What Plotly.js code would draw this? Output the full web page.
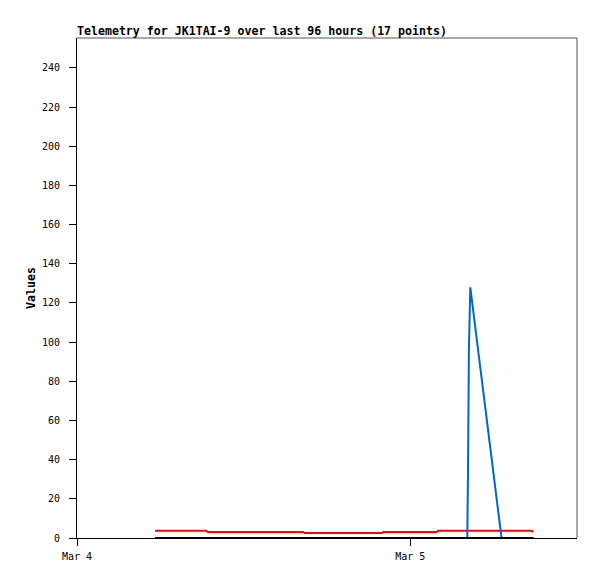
<!DOCTYPE html>
<html><head><meta charset="utf-8">
<script src="https://cdn.plot.ly/plotly-3.0.1.min.js"></script>
<style>html,body{margin:0;padding:0;background:#fff}</style>
</head><body>
<div id="chart" style="width:597px;height:579px"></div>
<script>
// Sample times (17 points)
var times = [
  "2024-03-04 05:37", "2024-03-04 09:18", "2024-03-04 09:24", "2024-03-04 16:18",
  "2024-03-04 16:24", "2024-03-04 21:57", "2024-03-04 22:03", "2024-03-05 01:54",
  "2024-03-05 02:00", "2024-03-05 04:06", "2024-03-05 04:09", "2024-03-05 04:13",
  "2024-03-05 04:19", "2024-03-05 06:34", "2024-03-05 07:30", "2024-03-05 08:42",
  "2024-03-05 08:52"
];
var redValues   = [3.7, 3.7, 3.1, 3.1, 2.5, 2.5, 3.1, 3.1, 3.7, 3.7, 3.7, 3.7, 3.7, 3.7, 3.7, 3.7, 3.2];
var blueValues  = [0, 0, 0, 0, 0, 0, 0, 0, 0, 0, 32, 96, 128, 0, 0, 0, 0];
var blackValues = [0, 0, 0, 0, 0, 0, 0, 0, 0, 0, 0, 0, 0, 0, 0, 0, 0];
var xTickVals = ["2024-03-04", "2024-03-05"];
var xTickText = ["Mar 4", "Mar 5"];
var xRange = ["2024-03-04 00:00", "2024-03-05 12:00"];
var yRange = [0, 255.3];

var font = "DejaVu Sans Mono, monospace";
var traces = [
  {x: times, y: redValues, mode: "lines", line: {color: "#ff0000", width: 2}, hoverinfo: "skip"},
  {x: times, y: blueValues, mode: "lines", line: {color: "#0066cc", width: 2}, hoverinfo: "skip"},
  {x: times, y: blackValues, mode: "lines", line: {color: "#000000", width: 2}, hoverinfo: "skip"}
];
var layout = {
  width: 597, height: 579,
  margin: {l: 77, r: 20, t: 38, b: 41},
  paper_bgcolor: "#ffffff", plot_bgcolor: "#ffffff",
  showlegend: false,
  font: {family: font, size: 10, color: "#000"},
  title: {text: "<b>Telemetry for JK1TAI-9 over last 96 hours (17 points)</b>",
          font: {family: font, size: 11.6, color: "#000"},
          x: 0, xref: "paper", xanchor: "left", y: 1 - 31/579, yref: "container", yanchor: "middle"},
  xaxis: {type: "date", range: xRange, tickvals: xTickVals, ticktext: xTickText,
          showgrid: false, zeroline: false, showline: true, linecolor: "#000", linewidth: 1,
          ticks: "outside", ticklen: 7, tickcolor: "#000", ticklabelstandoff: 2,
          tickfont: {family: font, size: 10}},
  yaxis: {range: yRange, tick0: 0, dtick: 20, showgrid: false, zeroline: false,
          showline: true, linecolor: "#000", linewidth: 1,
          ticks: "outside", ticklen: 7, tickcolor: "#000", ticklabelstandoff: 7,
          tickfont: {family: font, size: 10}},
  shapes: [
    {type: "line", xref: "paper", yref: "paper", x0: 0, x1: 1, y0: 1, y1: 1, line: {color: "#555", width: 1}},
    {type: "line", xref: "paper", yref: "paper", x0: 1, x1: 1, y0: 0, y1: 1, line: {color: "#555", width: 1}}
  ],
  annotations: [
    {text: "<b>Values</b>", xref: "paper", yref: "paper", x: -46/500, y: 0.5, xanchor: "center", yanchor: "middle",
     textangle: -90, showarrow: false, font: {family: font, size: 11.6, color: "#000"}}
  ]
};
Plotly.newPlot("chart", traces, layout, {staticPlot: true, displayModeBar: false});
</script>
</body></html>
